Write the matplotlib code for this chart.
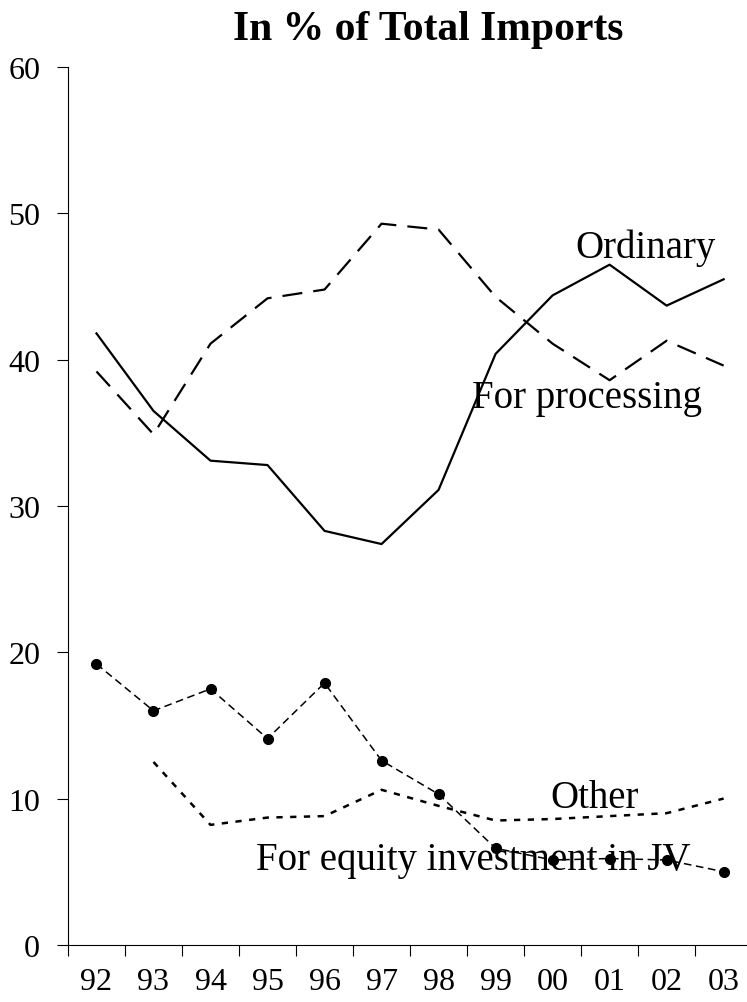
import matplotlib.pyplot as plt

plt.rcParams['font.family'] = 'Liberation Serif'

years = ['92', '93', '94', '95', '96', '97', '98', '99', '00', '01', '02', '03']
ordinary = [41.8, 36.5, 33.1, 32.8, 28.3, 27.4, 31.1, 40.4, 44.4, 46.5, 43.7, 45.5]
processing = [39.2, 34.9, 41.1, 44.2, 44.8, 49.3, 48.9, 44.3, 41.1, 38.6, 41.3, 39.6]
equity = [19.2, 16.0, 17.5, 14.1, 17.9, 12.6, 10.3, 6.6, 5.8, 5.9, 5.8, 5.0]
other_x = list(range(1, 12))
other = [12.5, 8.2, 8.7, 8.8, 10.6, 9.5, 8.5, 8.6, 8.8, 9.0, 10.0]

x = list(range(len(years)))
fig = plt.figure(figsize=(7.47, 10.03), dpi=100)
ax = fig.add_axes([0.091, 0.057, 0.909, 0.875])

ax.plot(x, ordinary, color='black', lw=1.6)
ax.plot(x, processing, color='black', lw=1.6, dashes=(9, 5))
ax.plot(x, equity, color='black', lw=1.1, dashes=(5, 3), marker='o', ms=7)
ax.plot(other_x, other, color='black', lw=1.8, dashes=(2.5, 3))

ax.set_xlim(-0.5, 11.41)
ax.set_ylim(0, 60)
ax.set_yticks(range(0, 61, 10))
ax.set_xticks([i - 0.5 for i in x])
ax.set_xticklabels([])
ax.set_xticks(x, minor=True)
ax.set_xticklabels(years, minor=True)
ax.tick_params(axis='x', which='minor', length=0, pad=16, labelsize=23)
ax.tick_params(axis='x', which='major', length=8, direction='out')
ax.tick_params(axis='y', length=8, labelsize=23, pad=12)
for s in ['top', 'right']:
    ax.spines[s].set_visible(False)

ax.text(8.4, 47.0, 'Ordinary', fontsize=28)
ax.text(6.58, 36.8, 'For processing', fontsize=28)
ax.text(7.96, 9.4, 'Other', fontsize=28)
ax.text(2.79, 5.2, 'For equity investment in JV', fontsize=28)

fig.text(0.573, 0.970, 'In % of Total Imports', fontsize=30, fontweight='bold', ha='center', va='center')

fig.savefig('out.png')
